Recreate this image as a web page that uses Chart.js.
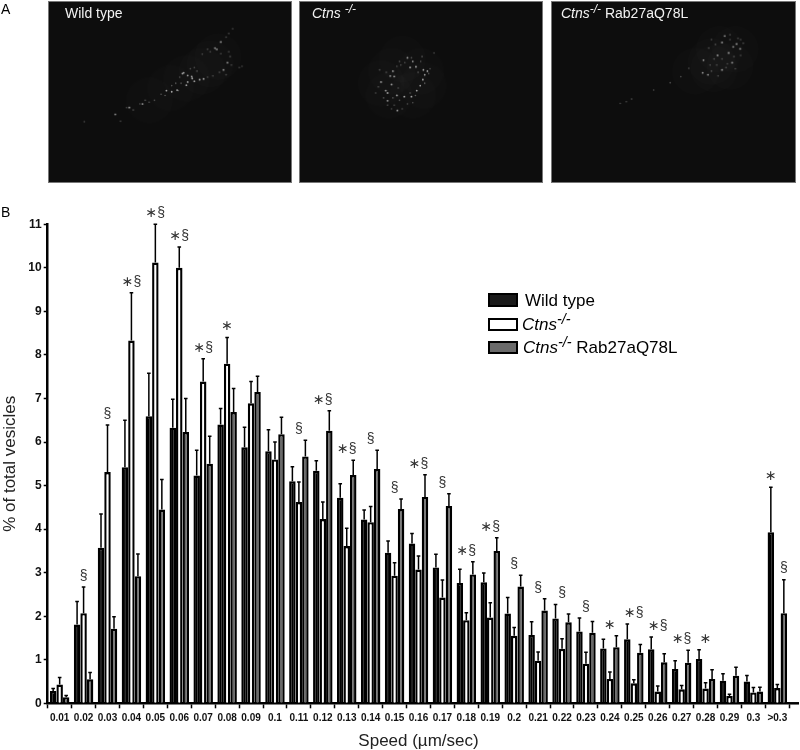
<!DOCTYPE html>
<html>
<head>
<meta charset="utf-8">
<title>Vesicle speed</title>
<script src="https://cdn.jsdelivr.net/npm/chart.js@4"></script>
<style>
  html, body { margin: 0; padding: 0; background: #fff; }
  #page { position: relative; width: 800px; height: 750px; overflow: hidden; font-family: "Liberation Sans", Arial, sans-serif; color: #000; }
  #page canvas { position: absolute; }
  .panel { background: #0d0d0d; box-sizing: border-box; border: 1px solid #777; filter: blur(0.6px); }
  .txt { position: absolute; white-space: nowrap; line-height: 1; }
  .txt sup { font-size: 0.85em; line-height: 0; vertical-align: 0.42em; }
  .white { color: #f2f2f2; font-size: 14px; }
  .leg { font-size: 17px; }
  .swatch { position: absolute; box-sizing: border-box; border: 2.5px solid #000; left: 488px; width: 30px; }
</style>
</head>
<body>
<div id="page">
  <canvas id="mainChart" width="800" height="750" style="left:0;top:0"></canvas>
  <canvas id="panel1" class="panel" width="244" height="182" style="left:48px;top:1px"></canvas>
  <canvas id="panel2" class="panel" width="244" height="182" style="left:299px;top:1px"></canvas>
  <canvas id="panel3" class="panel" width="245" height="182" style="left:551px;top:1px"></canvas>

  <div class="txt" style="left:1px;top:2px;font-size:14px">A</div>
  <div class="txt" style="left:1px;top:205px;font-size:14px">B</div>

  <div class="txt white" style="left:65px;top:6px">Wild type</div>
  <div class="txt white" style="left:312px;top:6px"><i>Ctns</i> <sup><i>-/-</i></sup></div>
  <div class="txt white" style="left:561px;top:6px"><i>Ctns</i><sup><i>-/-</i></sup> Rab27aQ78L</div>

  <div class="swatch" style="top:293px;height:14px;background:#1a1a1a"></div>
  <div class="txt leg" style="left:525px;top:292px">Wild type</div>
  <div class="swatch" style="top:318px;height:13px;background:#fff"></div>
  <div class="txt leg" style="left:522px;top:316px"><i>Ctns</i><sup><i>-/-</i></sup></div>
  <div class="swatch" style="top:341px;height:13px;background:#6a6a6a"></div>
  <div class="txt leg" style="left:523px;top:339px"><i>Ctns</i><sup><i>-/-</i></sup> Rab27aQ78L</div>
</div>

<script>
const speeds = ['0.01','0.02','0.03','0.04','0.05','0.06','0.07','0.08','0.09','0.1',
  '0.11','0.12','0.13','0.14','0.15','0.16','0.17','0.18','0.19','0.2',
  '0.21','0.22','0.23','0.24','0.25','0.26','0.27','0.28','0.29','0.3','>0.3'];

const wildType = [0.28,1.81,3.57,5.42,6.59,6.33,5.23,6.40,5.88,5.79,
  5.10,5.34,4.72,4.22,3.46,3.67,3.12,2.76,2.78,2.06,
  1.57,1.95,1.65,1.26,1.47,1.24,0.79,1.02,0.52,0.50,3.93];
const ctns = [0.43,2.07,5.31,8.33,10.12,10.00,7.39,7.80,6.89,5.60,
  4.62,4.23,3.61,4.16,2.93,3.07,2.43,1.91,1.97,1.55,
  0.98,1.25,0.91,0.56,0.46,0.27,0.32,0.34,0.17,0.25,0.35];
const rescue = [0.14,0.55,1.71,2.92,4.45,6.23,5.50,6.69,7.15,6.18,
  5.67,6.26,5.24,5.38,4.46,4.74,4.53,2.96,3.50,2.68,
  2.13,1.86,1.62,1.29,1.16,0.94,0.93,0.56,0.63,0.27,2.07];

// top of each error bar, same order as the bars
const wildTypeTop = [0.34,2.34,4.35,6.50,7.58,6.98,5.81,6.77,6.34,6.28,
  5.43,5.57,5.04,4.44,3.73,3.90,3.42,3.08,2.99,2.43,
  1.87,2.27,1.96,1.47,1.82,1.52,0.98,1.23,0.68,0.64,4.96];
const ctnsTop = [0.59,2.67,6.39,9.43,11.00,10.48,7.91,8.40,7.39,6.00,
  5.08,4.62,4.02,4.52,3.23,3.38,2.83,2.08,2.31,1.74,
  1.18,1.48,1.17,0.72,0.54,0.40,0.41,0.47,0.21,0.36,0.43];
const rescueTop = [0.18,0.71,1.99,3.43,5.14,7.00,6.13,7.23,7.51,6.57,
  6.04,6.72,5.58,5.81,4.69,5.25,4.81,3.25,3.80,2.94,
  2.40,2.05,1.88,1.55,1.35,1.14,1.22,0.77,0.83,0.37,2.84];

const sigLabels = ['','§','§','∗§','∗§','∗§','∗§','∗','','',
  '§','∗§','∗§','§','§','∗§','§','∗§','∗§','§',
  '§','§','§','∗','∗§','∗§','∗§','∗','','',''];
// the last bin has its two marks over separate bars
const lastBinStar = 0;
const lastBinSection = 2;

// spots in the micrographs on a 3x grid
const wtBrightX = [548,570,555,430,445,460,445,470,490,505,405,365,385,275,225,172,440,595,580,425,462];
const wtBrightY = [95,70,100,197,208,212,235,232,225,222,268,270,275,325,340,368,248,155,185,200,220];
const wtDimX = [600,615,590,520,600,605,610,640,650,565,540,520,400,385,345,320,300,265,240,215,192,55,590,570,530,480,470,500,455,415,360,410,420,285];
const wtDimY = [35,15,50,100,110,130,165,175,170,195,210,215,240,250,285,310,318,325,350,340,396,398,205,118,110,190,175,120,180,215,290,270,240,310];
const wtHazeX = [530,500,440,560,380,300];
const wtHazeY = [160,190,220,130,260,310];

const koBrightX = [330,350,362,390,405,395,275,265,280,270,230,248,290,318,345,365,378,388,292,255,255,340];
const koBrightY = [135,150,172,185,190,205,190,210,212,245,235,270,290,295,295,270,250,225,352,312,280,175];
const koDimX = [300,320,380,415,225,250,210,220,300,330,350,280,255,360,395,410,345,290,305,370,385,430,295,340,275,310,270,240];
const koDimY = [150,155,150,180,185,195,280,255,310,325,320,330,330,290,240,200,135,170,165,195,130,115,260,280,300,345,345,300];
const koHazeX = [270,380,260,350,310,230,390];
const koHazeY = [190,190,290,290,140,240,250];

const resBrightX = [570,625,638,612,500,608,570,517,497,553,595,580];
const resBrightY = [72,78,98,90,145,155,185,205,197,125,115,45];
const resDimX = [545,520,600,630,650,640,615,590,555,530,585,540,570,550,445,415,375,313,210,187,230,530,640,600,525,620];
const resDimY = [80,95,40,55,75,125,130,160,210,190,175,140,140,165,178,213,238,268,316,323,305,60,60,60,165,180];
const resHazeX = [560,600,530,620,540,470];
const resHazeY = [100,170,150,100,180,190];

const yMax = 11;

// error bars, drawn from the bar top using the library's own scale
const errorBars = {
  id: 'errorBars',
  afterDatasetsDraw(chart) {
    const ctx = chart.ctx;
    const y = chart.scales.y;
    ctx.save();
    ctx.strokeStyle = '#000';
    ctx.lineWidth = 1.5;
    chart.data.datasets.forEach((ds, di) => {
      chart.getDatasetMeta(di).data.forEach((bar, i) => {
        const top = y.getPixelForValue(ds.errorTop[i]);
        ctx.beginPath();
        ctx.moveTo(bar.x, bar.y);
        ctx.lineTo(bar.x, top);
        ctx.moveTo(bar.x - 1.8, top);
        ctx.lineTo(bar.x + 1.8, top);
        ctx.stroke();
      });
    });
    ctx.restore();
  }
};

// significance marks above the tallest error bar of each bin
const sigMarks = {
  id: 'sigMarks',
  afterDatasetsDraw(chart) {
    const ctx = chart.ctx;
    const x = chart.scales.x;
    const y = chart.scales.y;
    const gap = 11;
    ctx.save();
    ctx.fillStyle = '#333';
    ctx.font = '14px "Liberation Sans", "DejaVu Sans", sans-serif';
    ctx.textAlign = 'center';
    ctx.textBaseline = 'middle';
    sigLabels.forEach((label, i) => {
      if (!label) return;
      const top = Math.max(wildTypeTop[i], ctnsTop[i], rescueTop[i]);
      ctx.fillText(label, x.getPixelForValue(i), y.getPixelForValue(top) - gap);
    });
    const last = speeds.length - 1;
    [[lastBinStar, '∗'], [lastBinSection, '§']].forEach(([di, mark]) => {
      const bar = chart.getDatasetMeta(di).data[last];
      const ds = chart.data.datasets[di];
      ctx.fillText(mark, bar.x, y.getPixelForValue(ds.errorTop[last]) - gap);
    });
    ctx.restore();
  }
};

// the x axis line runs on a little past the last bin
const axisTail = {
  id: 'axisTail',
  afterDraw(chart) {
    const ctx = chart.ctx;
    ctx.save();
    ctx.strokeStyle = '#000';
    ctx.lineWidth = 2.5;
    ctx.beginPath();
    ctx.moveTo(chart.scales.x.right, chart.scales.y.bottom);
    ctx.lineTo(chart.width - 1, chart.scales.y.bottom);
    ctx.stroke();
    ctx.restore();
  }
};

function barSet(label, values, tops, fill) {
  return {
    label: label,
    data: values,
    errorTop: tops,
    backgroundColor: fill,
    borderColor: '#000',
    borderWidth: 2.4,
    categoryPercentage: 0.815,
    barPercentage: 1
  };
}

function createMainChart() {
  const ctx = document.getElementById('mainChart').getContext('2d');
  new Chart(ctx, {
    type: 'bar',
    data: {
      labels: speeds,
      datasets: [
        barSet('Wild type', wildType, wildTypeTop, '#000'),
        barSet('Ctns-/-', ctns, ctnsTop, '#fff'),
        barSet('Ctns-/- Rab27aQ78L', rescue, rescueTop, '#6a6a6a')
      ]
    },
    options: {
      responsive: false,
      animation: false,
      layout: { padding: { top: 224.3, right: 10.7, left: 0, bottom: 0 } },
      plugins: { legend: { display: false }, tooltip: { enabled: false } },
      scales: {
        x: {
          afterFit: s => { s.height = 46.7; },
          grid: { drawOnChartArea: false, tickLength: 5, tickColor: '#000', tickWidth: 1.5 },
          border: { color: '#000', width: 2.5 },
          ticks: {
            autoSkip: false, maxRotation: 0, minRotation: 0, padding: 4, color: '#111',
            font: { family: '"Liberation Sans"', size: 10, weight: 'bold' }
          },
          title: {
            display: true, text: 'Speed (µm/sec)', color: '#222',
            font: { family: '"Liberation Sans"', size: 17 }, padding: { top: 0, bottom: -2 }
          }
        },
        y: {
          min: 0,
          max: yMax,
          afterFit: s => { s.width = 47.7; },
          grid: { drawOnChartArea: false, tickLength: 4, tickColor: '#000', tickWidth: 1.5 },
          border: { color: '#000', width: 2.5 },
          ticks: {
            stepSize: 1, padding: 2, color: '#111',
            font: { family: '"Liberation Sans"', size: 12, weight: 'bold' }
          },
          title: {
            display: true, text: '% of total vesicles', color: '#222',
            font: { family: '"Liberation Sans"', size: 17 }, padding: { top: 0, bottom: 0 }
          }
        }
      }
    },
    plugins: [errorBars, sigMarks, axisTail]
  });
}

function pts(xs, ys) {
  return xs.map((v, i) => ({ x: v, y: ys[i] }));
}

function createPanel(id, xRange, spots) {
  new Chart(document.getElementById(id).getContext('2d'), {
    type: 'scatter',
    data: {
      datasets: [
        { data: pts(spots.hazeX, spots.hazeY), pointRadius: 24, borderWidth: 0, backgroundColor: 'rgba(255,255,255,0.012)' },
        { data: pts(spots.dimX, spots.dimY), pointRadius: 0.8, borderWidth: 0, backgroundColor: 'rgba(255,255,255,0.3)' },
        { data: pts(spots.brightX, spots.brightY), pointRadius: 0.9, borderWidth: 0, backgroundColor: 'rgba(255,255,255,0.65)' }
      ]
    },
    options: {
      responsive: false,
      animation: false,
      plugins: { legend: { display: false }, tooltip: { enabled: false } },
      scales: {
        x: { display: false, min: xRange[0], max: xRange[1] },
        y: { display: false, min: 3, max: 549, reverse: true }
      }
    }
  });
}

createMainChart();
createPanel('panel1', [12, 745], { brightX: wtBrightX, brightY: wtBrightY, dimX: wtDimX, dimY: wtDimY, hazeX: wtHazeX, hazeY: wtHazeY });
createPanel('panel2', [14, 748], { brightX: koBrightX, brightY: koBrightY, dimX: koDimX, dimY: koDimY, hazeX: koHazeX, hazeY: koHazeY });
createPanel('panel3', [20, 755], { brightX: resBrightX, brightY: resBrightY, dimX: resDimX, dimY: resDimY, hazeX: resHazeX, hazeY: resHazeY });
</script>
</body>
</html>
